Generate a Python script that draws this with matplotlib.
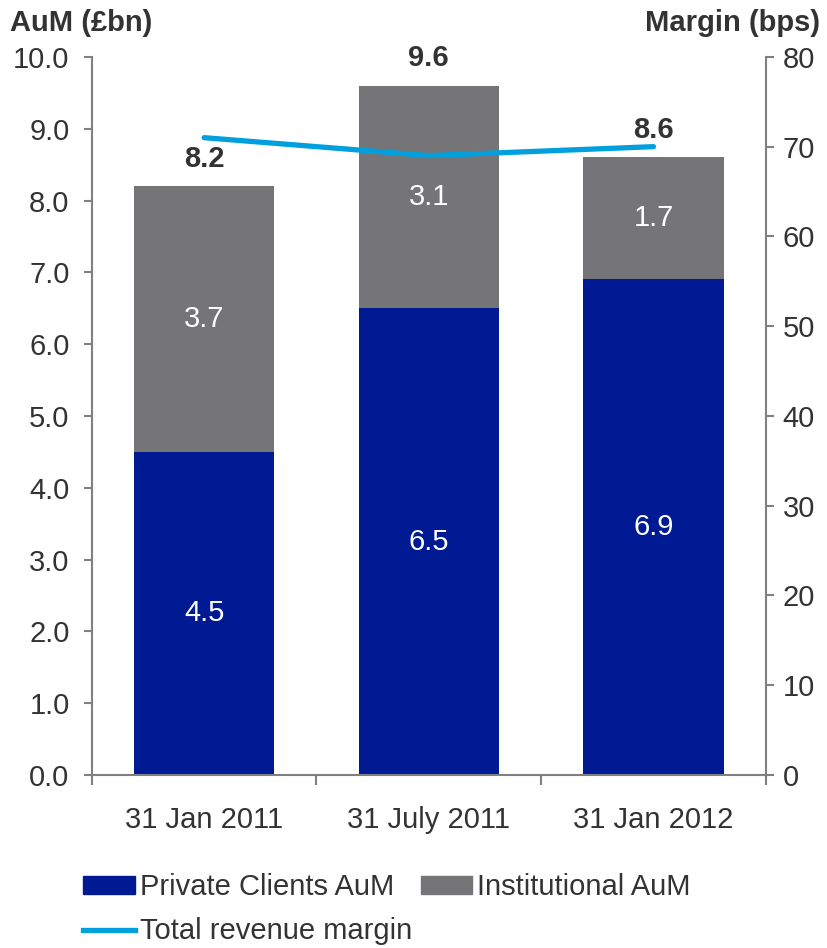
import numpy as np
import matplotlib.pyplot as plt
from matplotlib.patches import Patch
from matplotlib.lines import Line2D

plt.rcParams['font.family'] = ['Liberation Sans', 'DejaVu Sans']

dates = ['31 Jan 2011', '31 July 2011', '31 Jan 2012']
private_aum = [4.5, 6.5, 6.9]
institutional_aum = [3.7, 3.1, 1.7]
total_aum = [8.2, 9.6, 8.6]
margin_bps = [71, 69, 70]

blue = '#001A94'
grey = '#757577'
cyan = '#00A0DF'
text_col = '#333333'
axis_col = '#808080'
fs = 21

fig = plt.figure(figsize=(8.27, 9.48), dpi=100)
ax = fig.add_axes([0.111, 0.1825, 0.815, 0.7575])
x = np.arange(len(dates))
w = 0.625

ax.bar(x, private_aum, w, color=blue, zorder=2)
ax.bar(x, institutional_aum, w, bottom=private_aum, color=grey, zorder=2)

for i in range(len(dates)):
    ax.text(x[i], private_aum[i] / 2, f'{private_aum[i]:.1f}', ha='center', va='center',
            color='white', fontsize=fs)
    ax.text(x[i], private_aum[i] + institutional_aum[i] / 2, f'{institutional_aum[i]:.1f}',
            ha='center', va='center', color='white', fontsize=fs)
    ax.text(x[i], total_aum[i] + 0.38, f'{total_aum[i]:.1f}', ha='center', va='center',
            color=text_col, fontsize=fs, fontweight='bold')

ax.set_xlim(-0.5, 2.5)
ax.set_ylim(0, 10)
ax.set_yticks(np.arange(0, 10.01, 1.0))
ax.set_yticklabels([f'{v:.1f}' for v in np.arange(0, 10.01, 1.0)])
ax.set_xticks(x)
ax.set_xticklabels(dates)
ax.set_xticks([-0.5, 0.5, 1.5, 2.5], minor=True)
ax.tick_params(axis='x', which='major', length=0, pad=22, labelsize=fs, labelcolor=text_col)
ax.tick_params(axis='x', which='minor', length=7, color=axis_col, width=1.5)
ax.tick_params(axis='y', length=6, color=axis_col, width=1.5, labelsize=fs,
               labelcolor=text_col, pad=10)

ax2 = ax.twinx()
ax2.plot(x, margin_bps, color=cyan, lw=3.8, solid_capstyle='round', zorder=3)
ax2.set_ylim(0, 80)
ax2.set_yticks(np.arange(0, 81, 10))
ax2.tick_params(axis='y', length=6, color=axis_col, width=1.5, labelsize=fs,
                labelcolor=text_col, pad=6)

for a in (ax, ax2):
    a.spines['top'].set_visible(False)
    for s in ('left', 'right', 'bottom'):
        a.spines[s].set_color(axis_col)
        a.spines[s].set_linewidth(1.5)
ax.spines['right'].set_visible(False)
ax2.spines['left'].set_visible(False)
ax2.spines['bottom'].set_visible(False)

fig.text(0.012, 0.976, 'AuM (£bn)', ha='left', va='center', fontsize=fs,
         fontweight='bold', color=text_col)
fig.text(0.992, 0.976, 'Margin (bps)', ha='right', va='center', fontsize=fs,
         fontweight='bold', color=text_col)

handles = [Patch(color=blue), Line2D([0], [0], color=cyan, lw=3.8),
           Patch(color=grey)]
labels = ['Private Clients AuM', 'Total revenue margin', 'Institutional AuM']
fig.legend(handles, labels, ncol=2, loc='upper left', bbox_to_anchor=(0.1, 0.079),
           frameon=False, fontsize=fs, labelcolor=text_col, handlelength=1.78,
           handleheight=0.55, handletextpad=0.17, columnspacing=0.3, labelspacing=0.55,
           borderaxespad=0, borderpad=0)

fig.savefig('out.png', dpi=100)
